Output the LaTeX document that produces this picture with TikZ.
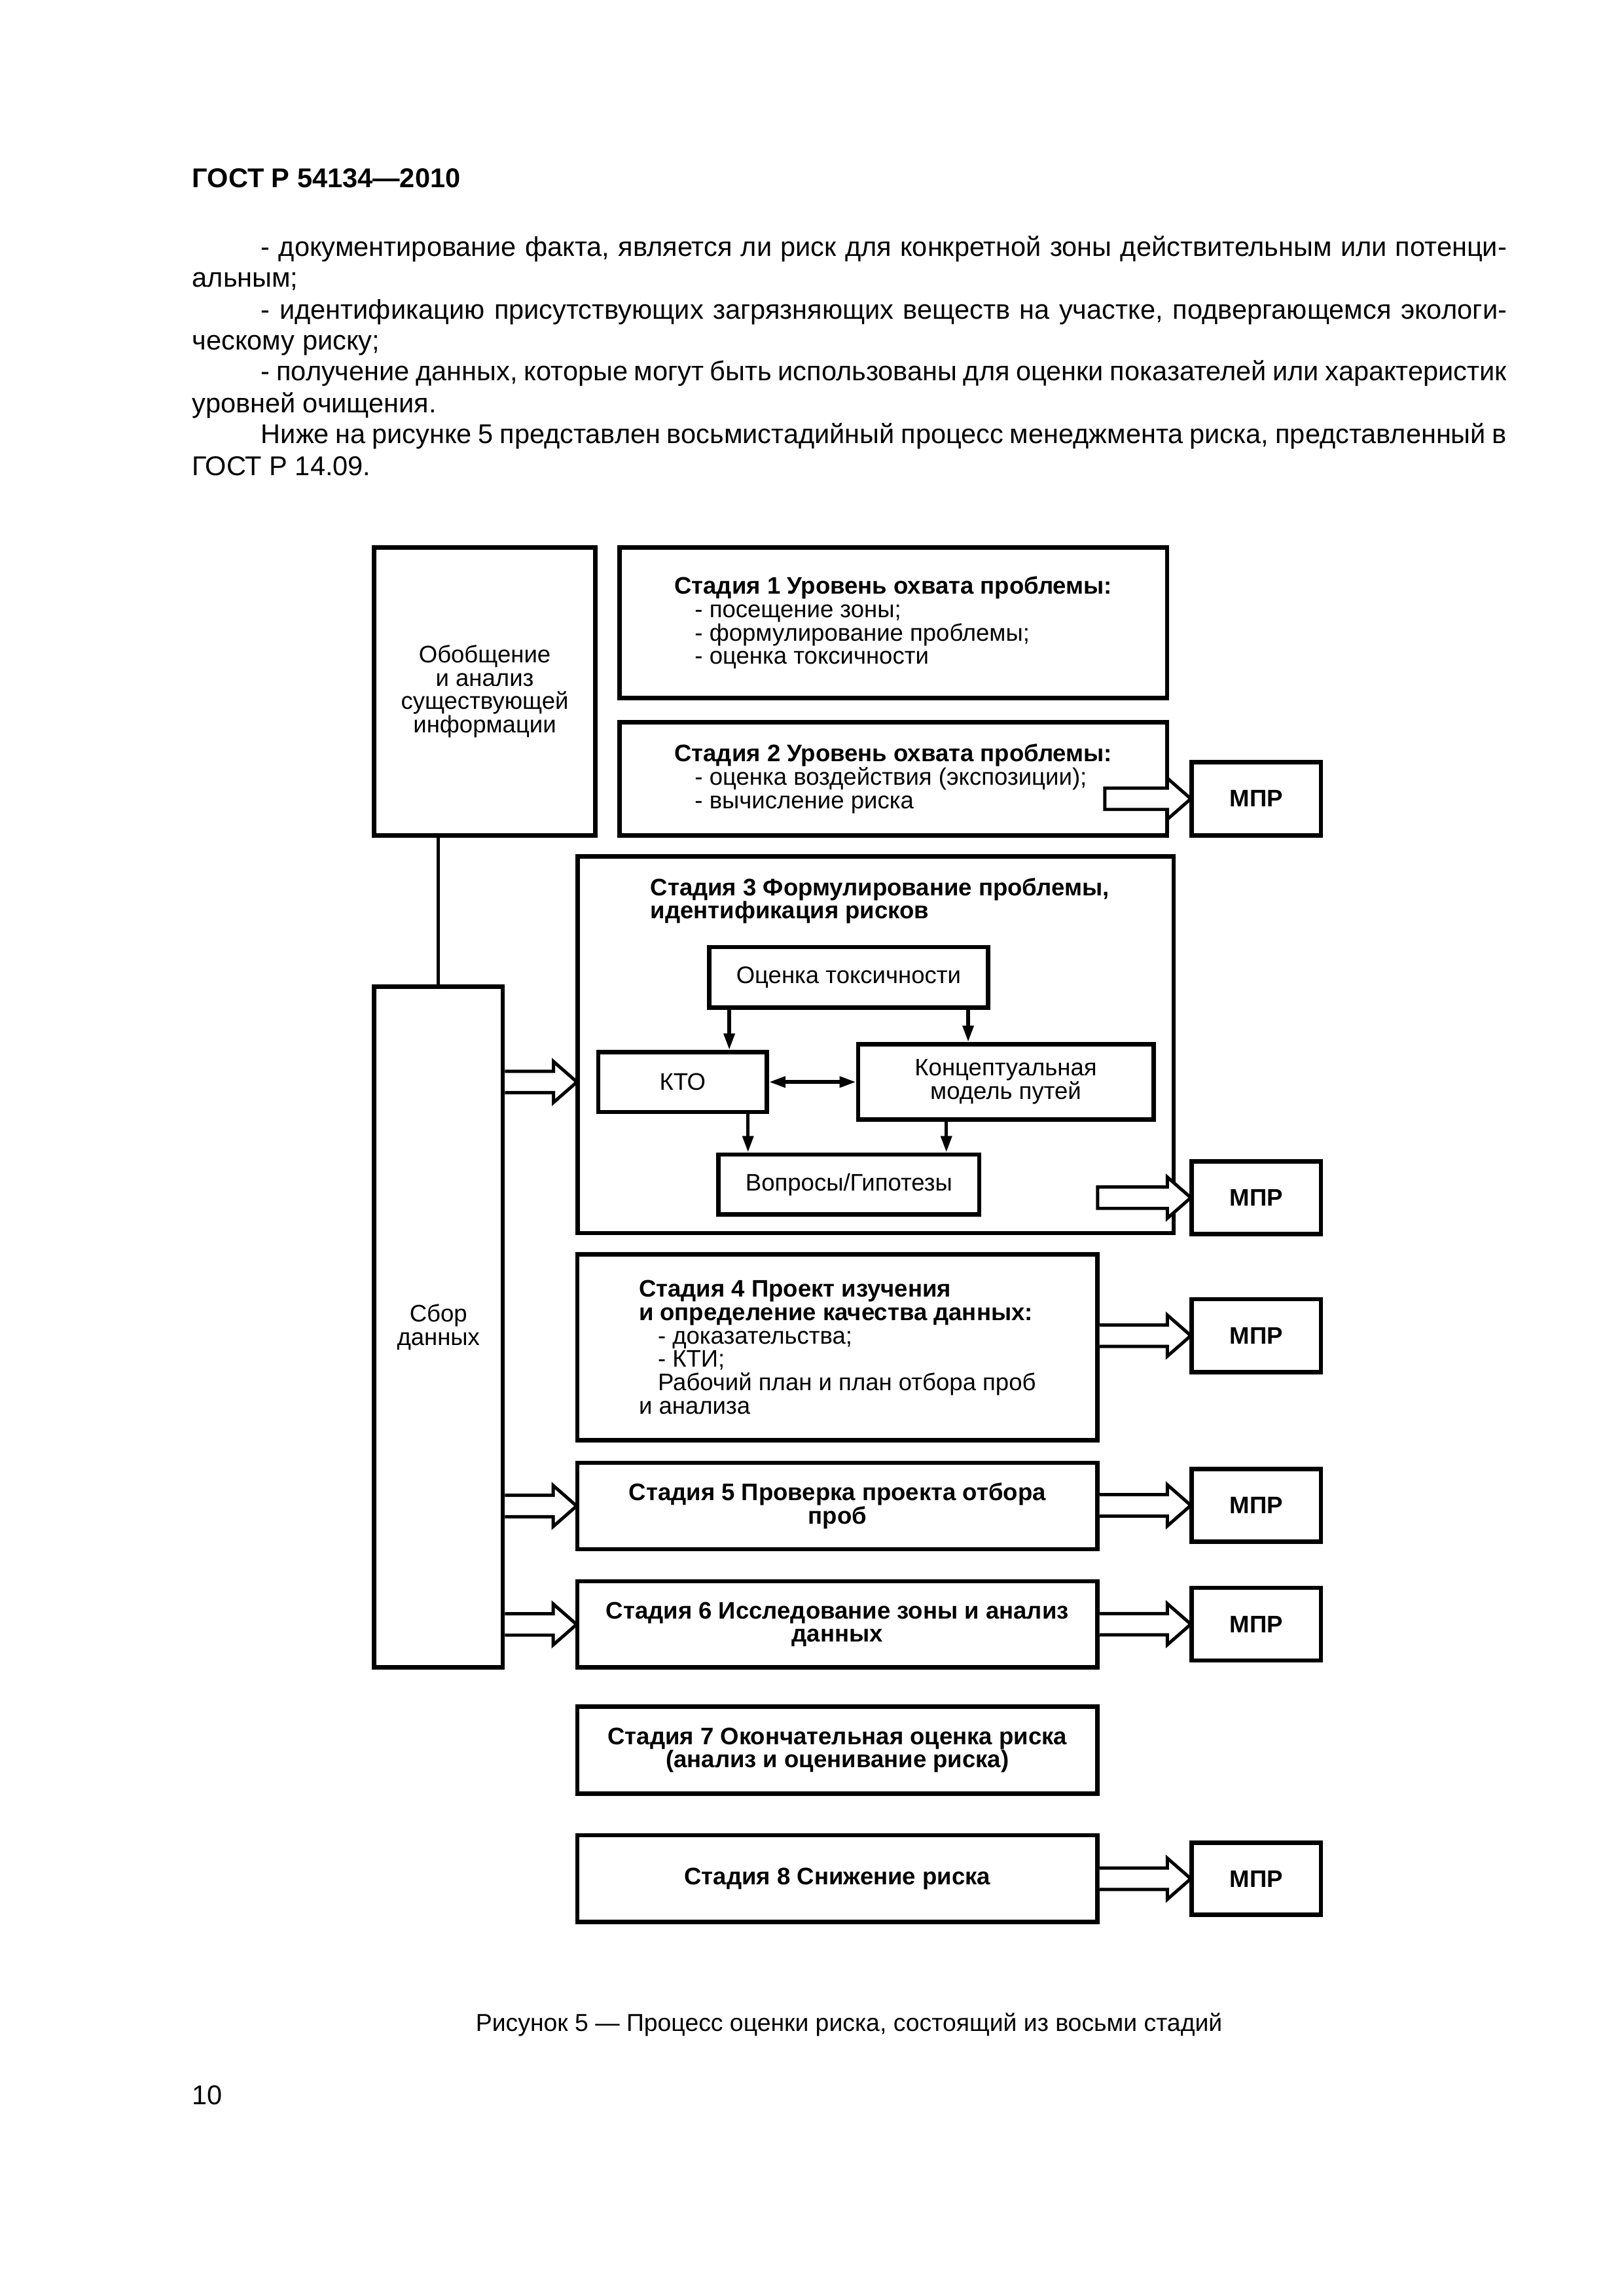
\documentclass[tikz,border=0pt]{standalone}
\usepackage{fontspec}
\setmainfont{Liberation Sans}
\usetikzlibrary{arrows.meta,calc}
\newdimen\U \U=0.01894cm
\newcommand\harrowc[2]{\draw[hollow] ($(#1)+(0,7.3)$) -- ($(#2)+(-15,7.3)$) -- ($(#2)+(-15,14)$) -- ($(#2)+(1,0)$) -- ($(#2)+(-15,-14)$) -- ($(#2)+(-15,-7.3)$) -- ($(#1)+(0,-7.3)$) -- cycle;}
\newcommand\harrowo[2]{\fill[white] ($(#1)+(0,7.3)$) -- ($(#2)+(-15,7.3)$) -- ($(#2)+(-15,14)$) -- ($(#2)+(1,0)$) -- ($(#2)+(-15,-14)$) -- ($(#2)+(-15,-7.3)$) -- ($(#1)+(0,-7.3)$) -- cycle;
\draw[hollow] ($(#1)+(0,7.3)$) -- ($(#2)+(-15,7.3)$) -- ($(#2)+(-15,14)$) -- ($(#2)+(1,0)$) -- ($(#2)+(-15,-14)$) -- ($(#2)+(-15,-7.3)$) -- ($(#1)+(0,-7.3)$);}
\newcommand\dfnt{\fontsize{8.8pt}{8.6pt}\selectfont\lineskiplimit=-10pt\relax}
\tikzset{
 dfont/.style={font=\dfnt},
 box/.style={draw, line width=1.6pt, rectangle, inner sep=0pt, dfont},
 bbox/.style={box, font=\dfnt\bfseries},
 hollow/.style={draw, line width=1.2pt, fill=white, line join=miter},
 sarrow/.style={line width=1.3pt, -{Triangle[length=6pt,width=3.9pt]}},
 darrow/.style={line width=1.3pt, {Triangle[length=6pt,width=3.9pt]}-{Triangle[length=6pt,width=3.9pt]}},
 body/.style={font=\fontsize{10pt}{11.5pt}\selectfont, inner sep=0pt, anchor=base west},
}
\begin{document}
\begin{tikzpicture}[x=0.01894cm, y=-0.01894cm]
\fill[white] (0,0) rectangle (1109,1568.7);
\useasboundingbox (0,0) rectangle (1109,1568.7);

% page text
\node[body, font=\fontsize{10pt}{12pt}\selectfont\bfseries] (hdr) at (131,128) {ГОСТ Р 54134—2010};
\node[body] (p1a) at (178,175) {\makebox[851\U][s]{- документирование факта, является ли риск для конкретной зоны действительным или потенци-}};
\node[body] (p1b) at (131,196) {альным;};
\node[body] (p2a) at (178,218) {\makebox[851\U][s]{- идентификацию присутствующих загрязняющих веществ на участке, подвергающемся экологи-}};
\node[body] (p2b) at (131,239) {ческому риску;};
\node[body] (p3a) at (178,260) {\makebox[851\U][s]{- получение данных, которые могут быть использованы для оценки показателей или характеристик}};
\node[body] (p3b) at (131,282) {уровней очищения.};
\node[body] (p4a) at (178,303) {\makebox[851\U][s]{Ниже на рисунке 5 представлен восьмистадийный процесс менеджмента риска, представленный в}};
\node[body] (p4b) at (131,325) {ГОСТ Р 14.09.};

% boxes
\node[box, minimum width=151.1*\U, minimum height=196.8*\U, align=center] (obob) at (331.15,472.4) {Обобщение\\и анализ\\существующей\\информации};
\node[box, minimum width=374.1*\U, minimum height=102.9*\U, align=left] (s1) at (610.25,425.45) {\textbf{Стадия 1 Уровень охвата проблемы:}\\\hspace*{7.5pt}- посещение зоны;\\\hspace*{7.5pt}- формулирование проблемы;\\\hspace*{7.5pt}- оценка токсичности};
\node[box, minimum width=374.1*\U, minimum height=77.4*\U, align=left] (s2) at (610.25,532.1) {\textbf{Стадия 2 Уровень охвата проблемы:}\\\hspace*{7.5pt}- оценка воздействия (экспозиции);\\\hspace*{7.5pt}- вычисление риска};
\node[bbox, minimum width=88.4*\U, minimum height=50.1*\U] (mpr1) at (858.2,545.75) {МПР};

\node[box, minimum width=407.2*\U, minimum height=257.4*\U] (s3) at (598.2,713.8) {};
\node[anchor=north west, inner sep=0pt, align=left, font=\dfnt\bfseries] (s3t) at (444,599.5) {Стадия 3 Формулирование проблемы,\\идентификация рисков};
\node[box, minimum width=190.4*\U, minimum height=41.3*\U] (tox) at (579.7,667.65) {Оценка токсичности};
\node[box, minimum width=115.2*\U, minimum height=40.9*\U] (kto) at (466.3,739.25) {КТО};
\node[box, minimum width=201.8*\U, minimum height=51.5*\U, align=center] (konc) at (687.1,739.15) {Концептуальная\\модель путей};
\node[box, minimum width=178.1*\U, minimum height=41*\U] (vopr) at (579.95,809.3) {Вопросы/Гипотезы};
\node[bbox, minimum width=88.4*\U, minimum height=49.6*\U] (mpr2) at (858.2,818.3) {МПР};

\node[box, minimum width=87.8*\U, minimum height=465.2*\U, align=center] (sbor) at (299.5,906.7) {Сбор\\данных};

\node[box, minimum width=355.3*\U, minimum height=126.9*\U, align=left] (s4) at (572.05,920.45) {\textbf{Стадия 4 Проект изучения}\\\textbf{и определение качества данных:}\\\hspace*{7pt}- доказательства;\\\hspace*{7pt}- КТИ;\\\hspace*{7pt}Рабочий план и план отбора проб\\и анализа};
\node[bbox, minimum width=88.4*\U, minimum height=49.9*\U] (mpr3) at (858.2,912.55) {МПР};
\node[bbox, minimum width=355.3*\U, minimum height=58.9*\U, align=center] (s5) at (572.05,1028.95) {Стадия 5 Проверка проекта отбора\\проб};
\node[bbox, minimum width=88.4*\U, minimum height=49.6*\U] (mpr4) at (858.2,1028.5) {МПР};
\node[bbox, minimum width=355.3*\U, minimum height=58.9*\U, align=center] (s6) at (572.05,1109.85) {Стадия 6 Исследование зоны и анализ\\данных};
\node[bbox, minimum width=88.4*\U, minimum height=49.6*\U] (mpr5) at (858.2,1109.7) {МПР};
\node[bbox, minimum width=355.3*\U, minimum height=59.4*\U, align=center] (s7) at (572.05,1195.8) {Стадия 7 Окончательная оценка риска\\(анализ и оценивание риска)};
\node[bbox, minimum width=355.3*\U, minimum height=59.2*\U, align=center] (s8) at (572.05,1283.5) {Стадия 8 Снижение риска};
\node[bbox, minimum width=88.4*\U, minimum height=49.4*\U] (mpr6) at (858.2,1283.6) {МПР};

% connectors
\draw[line width=1.2pt] (sbor.north) -- (sbor.north |- obob.south);

\coordinate (xa) at (498.2,0);
\coordinate (xb) at (661.4,0);
\coordinate (xc) at (511,0);
\coordinate (xd) at (646.5,0);
\draw[sarrow] (tox.south -| xa) -- (kto.north -| xa);
\draw[sarrow] (tox.south -| xb) -- (konc.north -| xb);
\draw[sarrow] (kto.south -| xc) -- (vopr.north -| xc);
\draw[sarrow] (konc.south -| xd) -- (vopr.north -| xd);
\draw[darrow] (kto.east) -- (kto.east -| konc.west);

% hollow arrows
\coordinate (h1s) at (754.8,545.75);
\harrowc{h1s}{mpr1.west}
\coordinate (h2s) at (749.8,818.3);
\harrowc{h2s}{mpr2.west}
\coordinate (h3s) at (s4.east |- mpr3.west);
\harrowo{h3s}{mpr3.west}
\coordinate (h4s) at (s5.east |- mpr4.west);
\harrowo{h4s}{mpr4.west}
\coordinate (h5s) at (s6.east |- mpr5.west);
\harrowo{h5s}{mpr5.west}
\coordinate (h6s) at (s8.east |- mpr6.west);
\harrowo{h6s}{mpr6.west}
\coordinate (g1s) at (sbor.east |- kto.west);
\coordinate (g1t) at (s3.west |- kto.west);
\harrowo{g1s}{g1t}
\coordinate (g2s) at (sbor.east |- s5.west);
\harrowo{g2s}{s5.west}
\coordinate (g3s) at (sbor.east |- s6.west);
\harrowo{g3s}{s6.west}

% caption
\node[font=\fontsize{9pt}{11pt}\selectfont, anchor=base, inner sep=0pt] (cap) at (580,1388) {Рисунок 5 — Процесс оценки риска, состоящий из восьми стадий};
\node[body] (pg) at (131,1438) {10};
\end{tikzpicture}
\end{document}
